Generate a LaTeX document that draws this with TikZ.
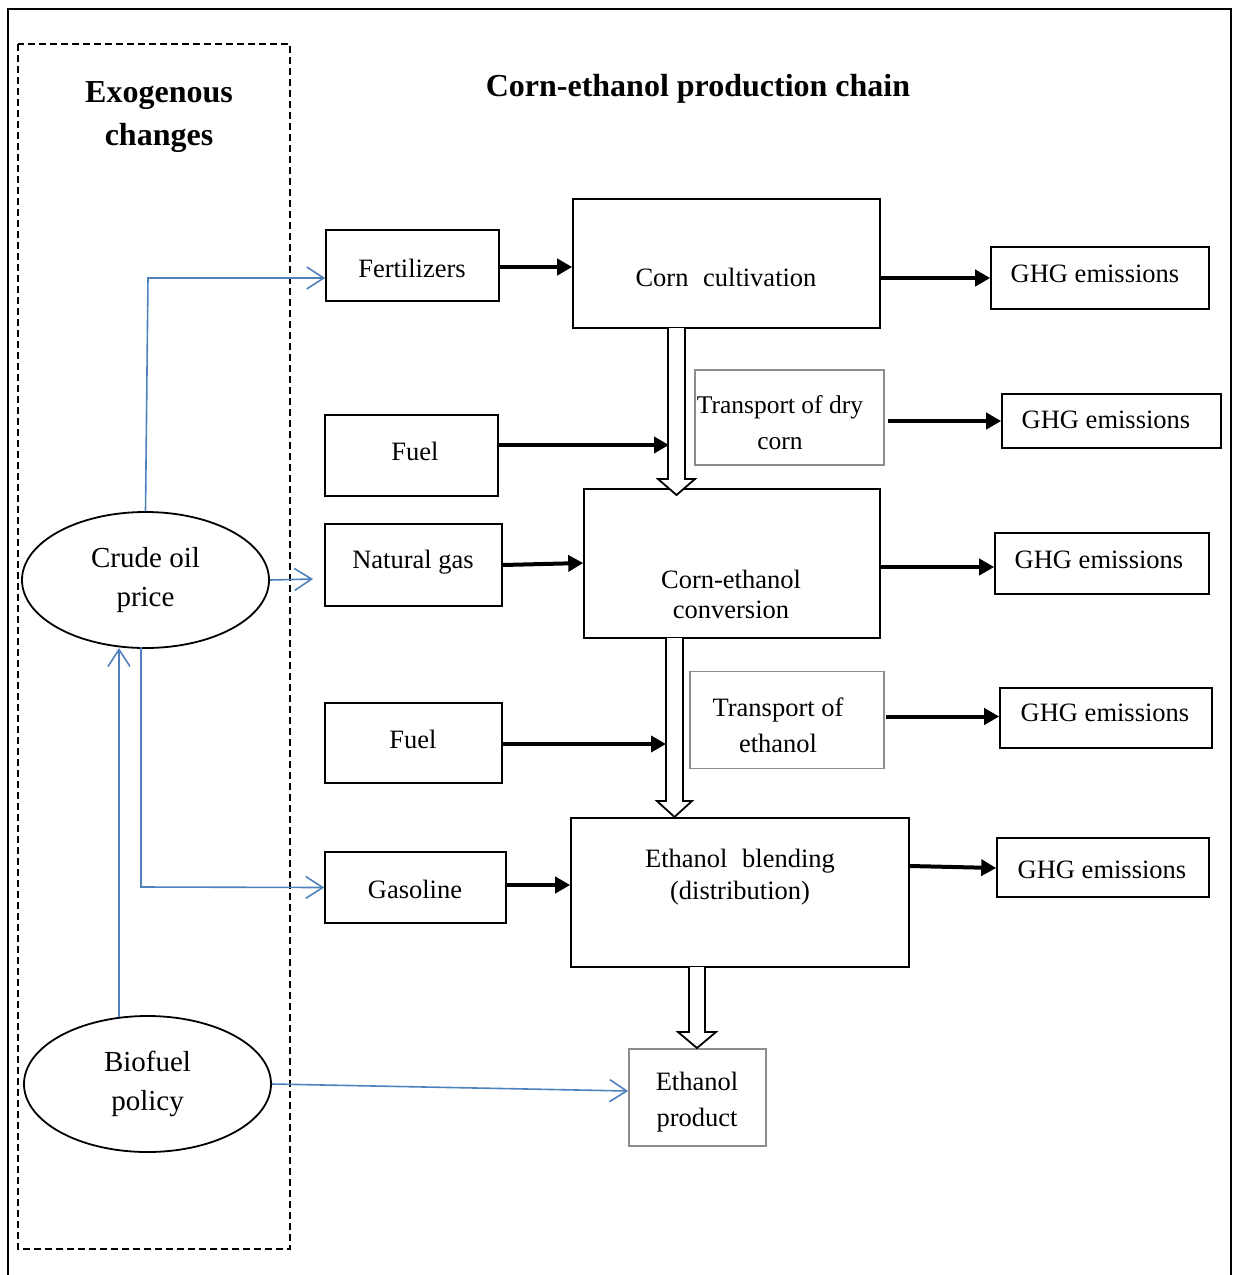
\documentclass[tikz,border=0pt]{standalone}
\usepackage{fontspec}
\setmainfont{Liberation Serif}
\usetikzlibrary{arrows.meta,calc,shapes.geometric}
\definecolor{linkblue}{RGB}{79,129,189}
\begin{document}
\begin{tikzpicture}[x=1pt,y=-1pt,
  box/.style={draw, line width=1.6pt, inner sep=0pt},
  graybox/.style={draw=black!45, line width=1.8pt, inner sep=0pt},
  txt/.style={font=\fontsize{26.5}{36}\selectfont, align=center, inner sep=0pt},
  ell/.style={draw, ellipse, line width=1.8pt, inner sep=0pt, minimum width=247pt, minimum height=136pt, align=center, font=\fontsize{29}{39}\selectfont},
  blk/.style={line width=4pt, -{Triangle[length=15pt,width=16pt]}},
  blu/.style={draw=linkblue, line width=1.6pt, -{Straight Barb[length=17pt,width=22pt,line width=1.6pt]}},
  hollow/.style={line width=1.8pt, fill=white, line join=miter}
 ]
\useasboundingbox (0,0) rectangle (1233,1275);
% outer frame
\draw[line width=2pt] (8,1275) -- (8,9) -- (1231,9) -- (1231,1275);
% dashed region
\draw[line width=2pt, dash pattern=on 7pt off 4pt] (18,44) rectangle (290,1249);

% titles
\node[font=\fontsize{32}{43}\selectfont\bfseries, align=center, inner sep=0pt] (exo) at (159,117) {Exogenous\\changes};
\node[font=\fontsize{32}{43}\selectfont\bfseries, inner sep=0pt] (chain) at (698,89) {Corn-ethanol production chain};

% boxes
\node[box, minimum width=173pt, minimum height=71pt] (fert) at (412.5,265.5) {};
\node[txt] (fertt) at (412,268) {Fertilizers};
\node[box, minimum width=307pt, minimum height=129pt] (cc) at (726.5,263.5) {};
\node[txt] (cct) at (726,277) {Corn\hspace{0.55em}cultivation};
\node[box, minimum width=218pt, minimum height=62pt] (ghg1) at (1100,278) {};
\node[txt] (ghg1t) at (1095,274) {GHG emissions};

\node[graybox, minimum width=189pt, minimum height=95pt] (tdc) at (789.5,417.5) {};
\node[txt, font=\fontsize{25.5}{36}\selectfont] (tdct) at (780,423) {Transport of dry\\corn};
\node[box, minimum width=219pt, minimum height=54pt] (ghg2) at (1111.5,421) {};
\node[txt] (ghg2t) at (1106,420) {GHG emissions};

\node[box, minimum width=173pt, minimum height=81pt] (fuel1) at (411.5,455.5) {};
\node[txt] (fuel1t) at (415,451) {Fuel};

\node[box, minimum width=177pt, minimum height=82pt] (ng) at (413.5,565) {};
\node[txt] (ngt) at (413,562) {Natural gas};
\node[box, minimum width=296pt, minimum height=149pt] (conv) at (732,563.5) {};
\node[txt, font=\fontsize{26.5}{30}\selectfont] (convt) at (731,594) {Corn-ethanol\\conversion};
\node[box, minimum width=214pt, minimum height=61pt] (ghg3) at (1102,563.5) {};
\node[txt] (ghg3t) at (1099,560) {GHG emissions};

\node[graybox, minimum width=194pt, minimum height=97pt] (te) at (787,720) {};
\node[txt] (tet) at (778,725.5) {Transport of\\ethanol};
\node[box, minimum width=212pt, minimum height=60pt] (ghg4) at (1106,718) {};
\node[txt] (ghg4t) at (1105,713) {GHG emissions};

\node[box, minimum width=177pt, minimum height=80pt] (fuel2) at (413.5,743) {};
\node[txt] (fuel2t) at (413,739) {Fuel};

\node[box, minimum width=181pt, minimum height=71pt] (gas) at (415.5,887.5) {};
\node[txt] (gast) at (415,889) {Gasoline};
\node[box, minimum width=338pt, minimum height=149pt] (blend) at (740,892.5) {};
\node[txt, font=\fontsize{26.5}{32}\selectfont] (blendt) at (740,877) {Ethanol\hspace{0.55em}blending\\(distribution)};
\node[box, minimum width=212pt, minimum height=59pt] (ghg5) at (1103,867.5) {};
\node[txt] (ghg5t) at (1102,870) {GHG emissions};

\node[graybox, minimum width=137pt, minimum height=97pt] (ep) at (697.5,1097.5) {};
\node[txt] (ept) at (697,1102) {Ethanol\\product};

% ellipses
\node[ell] (crude) at (145.5,580) {Crude oil\\price};
\node[ell] (bio) at (147.5,1084) {Biofuel\\policy};

% hollow flow arrows
\draw[hollow] (668,328) -- (668,479) -- (658,479) -- (676.5,495) -- (695,479) -- (685,479) -- (685,328);
\draw[hollow] (666,638) -- (666,801) -- (657,801) -- (674.5,817) -- (692,801) -- (683,801) -- (683,638);
\draw[hollow] (689,967) -- (689,1032) -- (678,1032) -- (697,1048) -- (716,1032) -- (705,1032) -- (705,967);

% black arrows
\draw[blk] (fert.east |- 0,267) -- (cc.west |- 0,267);
\draw[blk] (cc.east |- 0,278) -- (ghg1.west |- 0,278);
\draw[blk] (888,421) -- (ghg2.west);
\draw[blk] (fuel1.east |- 0,445) -- (669,445);
\draw[blk] (ng.east) -- (conv.west |- 0,563);
\draw[blk] (conv.east |- 0,567) -- (ghg3.west |- 0,567);
\draw[blk] (886,716.5) -- (ghg4.west |- 0,716.5);
\draw[blk] (fuel2.east |- 0,744) -- (666,744);
\draw[blk] (gas.east |- 0,885) -- (blend.west |- 0,885);
\draw[blk] (blend.east |- 0,866) -- (ghg5.west |- 0,868);

% blue influence arrows
\draw[blu] (crude.north) -- (148,278) -- (fert.west |- 0,278);
\draw[blu] (crude.east) -- (313,579);
\draw[blu] (141,647) -- (141,887) -- (gas.west);
\draw[blu] (119,1017) -- (119,648);
\draw[blu] (bio.east) -- (ep.west |- 0,1091);
\end{tikzpicture}
\end{document}
